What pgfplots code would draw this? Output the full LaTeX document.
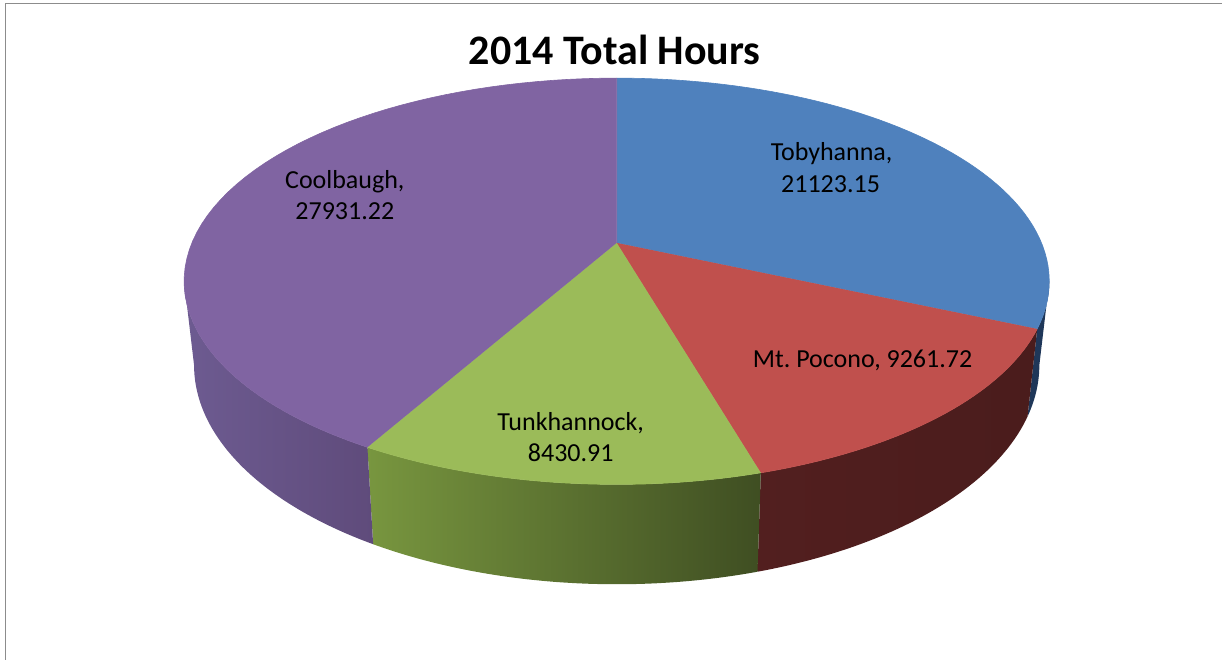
\documentclass[border=0pt]{standalone}
\usepackage{pgfplots}
\pgfplotsset{compat=1.18}
\usepackage{pgfplotstable}
\usepackage{fontspec}
\setmainfont{Carlito}
\definecolor{cTob}{HTML}{4F81BD}
\definecolor{cPoc}{HTML}{C0504D}
\definecolor{cTun}{HTML}{9BBB59}
\definecolor{cCoo}{HTML}{8064A2}
\definecolor{sTob}{HTML}{1F3759}
\definecolor{sPocL}{HTML}{521F1F}
\definecolor{sPocR}{HTML}{4A1C1C}
\definecolor{sTunL}{HTML}{78963F}
\definecolor{sTunR}{HTML}{3F4E22}
\definecolor{sCooL}{HTML}{6D5B91}
\definecolor{sCooR}{HTML}{5F4B7B}
\definecolor{frame}{HTML}{8C8C8C}

\pgfplotstableread[col sep=comma]{
name,hours
Tobyhanna,21123.15
Mt. Pocono,9261.72
Tunkhannock,8430.91
Coolbaugh,27931.22
}\piedata

\pgfplotstablegetelem{0}{hours}\of\piedata\let\vA\pgfplotsretval
\pgfplotstablegetelem{1}{hours}\of\piedata\let\vB\pgfplotsretval
\pgfplotstablegetelem{2}{hours}\of\piedata\let\vC\pgfplotsretval
\pgfplotstablegetelem{3}{hours}\of\piedata\let\vD\pgfplotsretval
\edef\tot{\fpeval{\vA+\vB+\vC+\vD}}
\edef\aA{90}
\edef\aB{\fpeval{round(90-360*\vA/\tot,4)}}
\edef\aC{\fpeval{round(\aB-360*\vB/\tot,4)}}
\edef\aD{\fpeval{round(\aC-360*\vC/\tot,4)}}
\edef\aE{-270}
\edef\sR{\fpeval{round(asind(-0.189),4)}}
\edef\sL{\fpeval{round(-180-\sR,4)}}

\begin{document}
\begin{tikzpicture}[declare function={
  pden(\p)=1+0.189*sin(\p);
  ppx(\p)=617+425*cos(\p)/pden(\p);
  ppxb(\p)=617+0.977*425*cos(\p)/pden(\p);
  ppt(\p)=417+196*sin(\p)/pden(\p);
  ppb(\p)=417+(196*sin(\p)-81)/pden(\p);
  sphi(\t,\pa,\pb)=ifthenelse(\t<59.5,(\pa)+((\pb)-(\pa))*(\t)/59,(\pb)+((\pa)-(\pb))*((\t)-60)/59);
  sx(\t,\pa,\pb)=ifthenelse(\t<59.5,ppx(sphi(\t,\pa,\pb)),ppxb(sphi(\t,\pa,\pb)));
  sy(\t,\pa,\pb)=ifthenelse(\t<59.5,ppt(sphi(\t,\pa,\pb)),ppb(sphi(\t,\pa,\pb)));
  tphi(\t,\pa,\pb)=(\pa)+((\pb)-(\pa))*min(\t,59)/59;
  tx(\t,\pa,\pb)=ifthenelse(\t<59.5,ppx(tphi(\t,\pa,\pb)),617);
  ty(\t,\pa,\pb)=ifthenelse(\t<59.5,ppt(tphi(\t,\pa,\pb)),417);
}]
\begin{axis}[scale only axis, width=611.5bp, height=330bp,
  xmin=0, xmax=1223, ymin=0, ymax=660, hide axis, clip=false]
\path (axis cs:0,0) (axis cs:1223,660);
% frame
\draw[frame, line width=0.6bp] (axis cs:5.5,0) -- (axis cs:5.5,656.5) -- (axis cs:1223,656.5);
% sides
\addplot[draw=none, fill=sTob, domain=0:119, samples=120, variable=\t]
  ({sx(\t,\sR,\aB)},{sy(\t,\sR,\aB)});
\addplot[draw=none, left color=sPocL, right color=sPocR, domain=0:119, samples=120, variable=\t]
  ({sx(\t,\aB,\aC)},{sy(\t,\aB,\aC)});
\addplot[draw=none, left color=sTunL, right color=sTunR, domain=0:119, samples=120, variable=\t]
  ({sx(\t,\aC,\aD)},{sy(\t,\aC,\aD)});
\addplot[draw=none, left color=sCooL, right color=sCooR, domain=0:119, samples=120, variable=\t]
  ({sx(\t,\aD,\sL)},{sy(\t,\aD,\sL)});
% tops
\addplot[draw=cTob, line width=0.3bp, fill=cTob, domain=0:60, samples=61, variable=\t]
  ({tx(\t,\aA,\aB)},{ty(\t,\aA,\aB)});
\addplot[draw=cPoc, line width=0.3bp, fill=cPoc, domain=0:60, samples=61, variable=\t]
  ({tx(\t,\aB,\aC)},{ty(\t,\aB,\aC)});
\addplot[draw=cTun, line width=0.3bp, fill=cTun, domain=0:60, samples=61, variable=\t]
  ({tx(\t,\aC,\aD)},{ty(\t,\aC,\aD)});
\addplot[draw=cCoo, line width=0.3bp, fill=cCoo, domain=0:60, samples=61, variable=\t]
  ({tx(\t,\aD,\aE)},{ty(\t,\aD,\aE)});
% title
\node[anchor=base, inner sep=0pt, font=\fontsize{21bp}{25bp}\selectfont\bfseries]
  at (axis cs:615,595) {2014 Total Hours};
% labels
\begin{scope}[every node/.style={anchor=base, inner sep=0pt, font=\fontsize{13bp}{16bp}\selectfont}]
\node at (axis cs:832,499) {Tobyhanna,};
\node at (axis cs:831,467) {21123.15};
\node at (axis cs:863,292) {Mt.\ Pocono, 9261.72};
\node at (axis cs:571,229) {Tunkhannock,};
\node at (axis cs:571,198) {8430.91};
\node at (axis cs:345,471) {Coolbaugh,};
\node at (axis cs:345,440) {27931.22};
\end{scope}
\end{axis}
\end{tikzpicture}
\end{document}
